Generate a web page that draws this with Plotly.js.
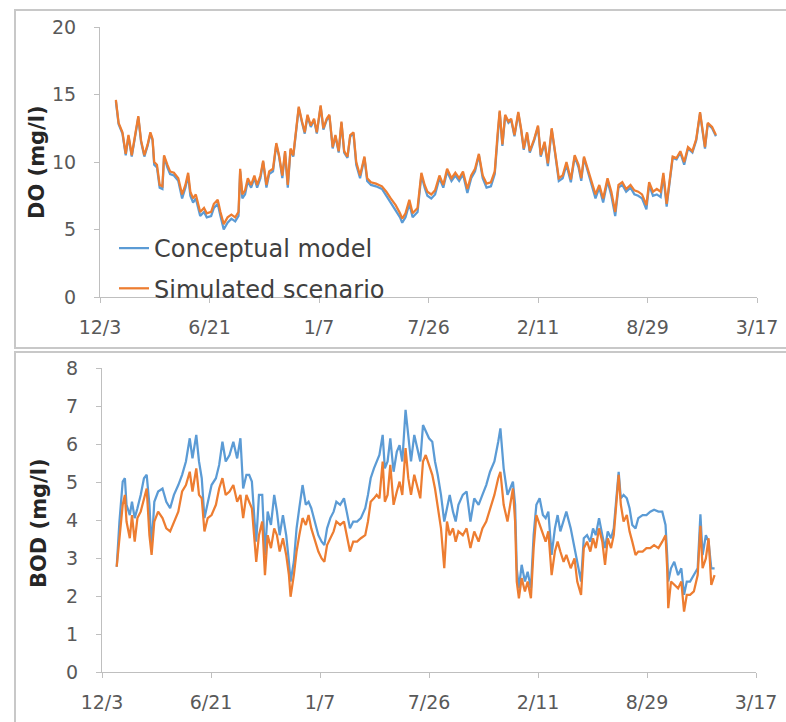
<!DOCTYPE html>
<html>
<head>
<meta charset="utf-8">
<script src="https://cdn.plot.ly/plotly-3.0.1.min.js"></script>
<style>
  html, body { margin: 0; padding: 0; background: #ffffff; }
  #chart { width: 786px; height: 722px; }
</style>
</head>
<body>
<div id="chart"></div>
<script>
// Day counts are measured from the first axis tick (12/3).
const START_DATE = '2013-12-03';

const X_TICKS = ['2013-12-03', '2014-06-21', '2015-01-07', '2015-07-26', '2016-02-11', '2016-08-29', '2017-03-17'];
const X_TICK_LABELS = ['12/3', '6/21', '1/7', '7/26', '2/11', '8/29', '3/17'];

const SERIES_NAMES = ['Conceptual model', 'Simulated scenario'];

// Dissolved oxygen (mg/l)
const DO_DAYS = [
  29, 34, 41, 47, 52, 58, 65, 70, 75, 81,
  87, 92, 96, 99, 104, 109, 114, 117, 123, 128,
  135, 143, 150, 156, 161, 165, 170, 175, 183, 190,
  195, 203, 208, 215, 220, 226, 233, 240, 247, 253,
  256, 260, 265, 270, 276, 282, 287, 293, 298, 304,
  309, 316, 322, 327, 333, 338, 343, 348, 353, 358,
  363, 369, 374, 379, 385, 391, 396, 403, 408, 414,
  419, 425, 430, 436, 441, 446, 452, 457, 463, 468,
  475, 483, 488, 495, 504, 515, 523, 531, 540, 548,
  552, 558, 565, 571, 580, 587, 593, 598, 605, 612,
  620, 627, 634, 642, 649, 656, 663, 671, 678, 685,
  692, 699, 706, 714, 721, 726, 730, 735, 740, 746,
  751, 757, 764, 769, 774, 780, 785, 793, 800, 805,
  812, 818, 825, 831, 838, 845, 852, 860, 867, 874,
  879, 884, 892, 899, 905, 912, 919, 927, 934, 941,
  947, 954, 961, 969, 976, 983, 990, 998, 1003, 1010,
  1017, 1024, 1029, 1035, 1041, 1046, 1053, 1060, 1067, 1074,
  1082, 1089, 1096, 1101, 1105, 1110, 1118, 1125
];
const DO_CONCEPTUAL = [
  14.5, 12.8, 12.1, 10.5, 11.9, 10.4, 12.1, 13.3, 11.5, 10.4,
  11.2, 12.1, 11.6, 9.8, 9.6, 8.1, 8.0, 10.4, 9.6, 9.1,
  9.0, 8.6, 7.3, 8.1, 9.0, 7.5, 7.0, 7.3, 6.0, 6.3,
  5.9, 6.0, 6.6, 6.9, 6.0, 5.0, 5.5, 5.8, 5.6, 6.0,
  9.3, 7.3, 7.6, 8.6, 8.1, 8.8, 8.1, 8.8, 10.0, 8.1,
  9.1, 9.3, 11.3, 10.4, 8.8, 10.7, 8.1, 10.9, 10.4, 12.4,
  14.0, 12.9, 12.1, 13.4, 12.6, 13.1, 12.1, 14.1, 12.4, 13.1,
  13.4, 11.0, 11.9, 10.7, 12.9, 10.7, 10.3, 11.9, 12.1, 9.8,
  8.8, 10.3, 8.6, 8.3, 8.2, 8.0, 7.5, 7.0, 6.5, 5.9,
  5.5, 5.9, 6.9, 5.9, 6.3, 9.0, 8.1, 7.5, 7.3, 7.6,
  8.8, 8.1, 9.3, 8.6, 9.0, 8.6, 9.1, 7.7, 8.8, 9.3,
  10.5, 8.8, 8.1, 8.2, 9.1, 11.9, 13.7, 11.2, 13.4, 12.9,
  13.1, 11.9, 13.6, 12.4, 10.9, 12.1, 10.7, 11.6, 12.6, 10.4,
  11.4, 9.7, 12.4, 10.7, 8.6, 8.8, 9.8, 8.5, 10.4, 9.6,
  8.6, 10.3, 9.1, 8.1, 7.3, 8.1, 7.0, 8.6, 7.5, 6.0,
  8.1, 8.3, 7.8, 8.1, 7.6, 7.5, 7.3, 6.5, 8.3, 7.5,
  7.6, 7.4, 9.0, 6.7, 8.8, 10.3, 10.2, 10.7, 9.8, 11.0,
  10.7, 11.6, 13.6, 12.1, 11.0, 12.8, 12.5, 11.9
];
const DO_SIMULATED = [
  14.6, 12.9, 12.2, 10.6, 12.0, 10.5, 12.2, 13.4, 11.6, 10.5,
  11.3, 12.2, 11.7, 10.0, 9.8, 8.3, 8.2, 10.5, 9.8, 9.3,
  9.2, 8.8, 7.6, 8.3, 9.2, 7.8, 7.3, 7.6, 6.3, 6.6,
  6.2, 6.3, 6.9, 7.2, 6.3, 5.4, 5.9, 6.1, 5.9, 6.3,
  9.5, 7.6, 7.9, 8.8, 8.3, 9.0, 8.3, 9.0, 10.1, 8.3,
  9.3, 9.5, 11.4, 10.5, 9.0, 10.8, 8.3, 11.0, 10.5, 12.5,
  14.1, 13.0, 12.2, 13.5, 12.7, 13.2, 12.2, 14.2, 12.5, 13.2,
  13.5, 11.1, 12.0, 10.8, 13.0, 10.8, 10.4, 12.0, 12.2, 10.0,
  9.0, 10.4, 8.8, 8.5, 8.4, 8.2, 7.8, 7.3, 6.8, 6.2,
  5.8, 6.2, 7.2, 6.2, 6.6, 9.2, 8.3, 7.8, 7.6, 7.9,
  9.0, 8.3, 9.5, 8.8, 9.2, 8.8, 9.3, 8.0, 9.0, 9.5,
  10.6, 9.0, 8.4, 8.5, 9.3, 12.0, 13.8, 11.3, 13.5, 13.0,
  13.2, 12.0, 13.7, 12.5, 11.0, 12.2, 10.8, 11.7, 12.7, 10.5,
  11.5, 9.9, 12.5, 10.8, 8.8, 9.0, 10.0, 8.7, 10.5, 9.8,
  8.8, 10.4, 9.3, 8.3, 7.6, 8.3, 7.3, 8.8, 7.8, 6.3,
  8.3, 8.5, 8.0, 8.3, 7.9, 7.8, 7.6, 6.8, 8.5, 7.8,
  8.0, 7.8, 9.2, 6.9, 9.0, 10.4, 10.3, 10.8, 10.0, 11.1,
  10.8, 11.7, 13.7, 12.2, 11.1, 12.9, 12.6, 12.0
];

// Biochemical oxygen demand (mg/l)
const BOD_DAYS = [
  27, 32, 38, 42, 45, 51, 55, 60, 65, 71,
  77, 82, 87, 91, 96, 103, 111, 118, 125, 132,
  140, 147, 154, 161, 166, 173, 178, 183, 188, 194,
  201, 209, 215, 221, 227, 234, 241, 248, 254, 259,
  265, 270, 275, 280, 283, 288, 294, 299, 304, 310,
  316, 321, 326, 332, 338, 343, 346, 352, 357, 362,
  368, 374, 379, 384, 390, 397, 403, 408, 413, 419,
  425, 430, 437, 444, 449, 455, 461, 468, 475, 483,
  488, 493, 499, 504, 509, 515, 519, 524, 529, 535,
  541, 546, 551, 557, 562, 567, 573, 578, 584, 589,
  594, 600, 606, 611, 616, 622, 628, 633, 638, 644,
  649, 654, 662, 669, 676, 683, 691, 698, 705, 712,
  720, 727, 731, 737, 744, 749, 754, 758, 761, 765,
  770, 776, 781, 787, 792, 797, 803, 809, 814, 819,
  825, 831, 836, 841, 847, 852, 860, 867, 872, 879,
  884, 890, 896, 901, 906, 912, 918, 923, 928, 934,
  939, 944, 948, 952, 957, 963, 968, 973, 979, 984,
  992, 999, 1006, 1013, 1021, 1028, 1034, 1037, 1039, 1044,
  1050, 1057, 1063, 1068, 1073, 1079, 1086, 1093, 1098, 1102,
  1108, 1113, 1118, 1124
];
const BOD_CONCEPTUAL = [
  2.77, 3.96, 5.01, 5.1, 4.4, 4.13, 4.48, 4.05, 4.31, 4.66,
  5.1, 5.19, 4.4, 3.26, 4.48, 4.75, 4.83, 4.48, 4.31, 4.66,
  4.92, 5.19, 5.54, 6.15, 5.62, 6.24, 5.54, 5.1, 4.05, 4.48,
  4.92, 5.1, 5.45, 6.06, 5.54, 5.71, 6.06, 5.62, 6.15, 4.83,
  5.19, 5.19, 5.01, 3.96, 3.43, 4.66, 4.66, 3.08, 4.22, 3.87,
  4.66, 4.22, 3.6, 4.13, 3.6, 2.9, 2.38, 2.9, 3.78, 4.31,
  4.92, 4.4, 4.48, 4.31, 3.96, 3.6, 3.43, 3.34, 3.78, 4.05,
  4.22, 4.48, 4.4, 4.57, 4.22, 3.78, 3.96, 3.96, 4.05, 4.31,
  4.66, 5.1, 5.36, 5.54, 5.71, 6.24, 5.36, 5.54, 6.15, 5.27,
  5.8, 5.97, 5.54, 6.9, 6.15, 5.54, 6.24, 5.89, 5.54, 6.5,
  6.33, 6.15, 6.06, 5.54, 5.19, 4.66, 3.96, 4.31, 4.66, 4.22,
  3.96, 4.4, 4.66, 4.75, 3.96, 4.57, 4.4, 4.66, 4.92, 5.27,
  5.54, 6.06, 6.41, 5.36, 4.66, 4.83, 5.01, 4.4, 2.73, 2.2,
  2.82, 2.38, 2.64, 2.2, 3.6, 4.4, 4.57, 4.13, 4.05, 4.22,
  3.08, 3.78, 4.13, 3.7, 3.96, 4.22, 3.78, 3.26, 2.9, 2.38,
  3.52, 3.6, 3.43, 3.78, 3.6, 4.05, 3.6, 3.26, 3.7, 3.52,
  3.78, 4.66, 5.27, 4.57, 4.66, 4.57, 4.31, 3.87, 3.78, 4.05,
  4.13, 4.13, 4.22, 4.27, 4.22, 4.22, 3.87, 3.08, 2.38, 2.73,
  2.9, 2.55, 2.73, 2.03, 2.38, 2.38, 2.55, 2.73, 4.15, 3.08,
  3.6, 3.43, 2.73, 2.73
];
const BOD_SIMULATED = [
  2.77, 3.6, 4.4, 4.66, 3.96, 3.52, 4.13, 3.43, 4.05, 4.22,
  4.57, 4.83, 3.6, 3.08, 3.96, 4.22, 4.05, 3.78, 3.7, 3.96,
  4.22, 4.75, 4.92, 5.27, 4.75, 5.36, 4.66, 4.57, 3.7, 4.05,
  4.13, 4.4, 4.83, 5.1, 4.66, 4.75, 4.92, 4.48, 4.66, 4.05,
  4.66, 4.48, 4.31, 3.43, 2.9, 3.6, 3.96, 2.55, 3.6, 3.26,
  3.78, 3.6, 3.17, 3.52, 3.08, 2.55, 1.98, 2.55, 3.17, 3.6,
  4.05, 3.87, 4.13, 3.78, 3.52, 3.17, 2.99, 2.9, 3.34, 3.52,
  3.7, 3.96, 3.87, 3.96, 3.6, 3.17, 3.43, 3.43, 3.52, 3.6,
  3.96, 4.48, 4.57, 4.66, 4.57, 5.54, 4.48, 4.66, 5.45, 4.4,
  4.75, 5.01, 4.66, 5.89, 5.1, 4.66, 5.19, 4.92, 4.57, 5.54,
  5.71, 5.45, 5.19, 4.83, 4.4, 3.78, 2.73, 3.96, 3.6, 3.78,
  3.43, 3.7, 3.6, 3.78, 3.26, 3.7, 3.43, 3.78, 3.96, 4.31,
  4.66, 5.1, 5.27, 4.4, 3.96, 4.4, 4.83, 3.96, 2.38, 1.94,
  2.47, 2.12, 2.38, 1.94, 3.26, 4.13, 3.87, 3.6, 3.43, 3.7,
  2.55, 3.17, 3.43, 3.17, 2.9, 3.08, 2.73, 2.99, 2.38, 2.03,
  3.26, 3.43, 3.17, 3.52, 3.26, 3.78, 3.43, 2.82, 3.52, 3.26,
  3.6, 4.48, 5.19, 4.4, 3.96, 4.13, 3.7, 3.43, 3.08, 3.17,
  3.17, 3.26, 3.26, 3.34, 3.26, 3.43, 3.6, 2.73, 1.68, 2.38,
  2.29, 2.2, 2.38, 1.59, 2.03, 2.03, 2.12, 2.55, 3.85, 2.73,
  2.99, 3.52, 2.29, 2.55
];

const COLOR_CONCEPTUAL = '#5B9BD5';
const COLOR_SIMULATED = '#ED7D31';

// ---- helpers -------------------------------------------------------------
const W = 786, H = 722;
const px = v => v / W;          // page pixel -> paper x
const py = v => 1 - v / H;      // page pixel -> paper y
const DAY_MS = 86400000;
const startMs = Date.parse(START_DATE + 'T00:00:00Z');
const toDates = days => days.map(d => new Date(startMs + d * DAY_MS).toISOString().slice(0, 10));

const FONT = 'DejaVu Sans, Verdana, sans-serif';
const AXIS_GRAY = '#bfbfbf';
const TICK_FONT = { family: FONT, size: 19, color: '#595959' };

function xAxis(domainPx, anchor) {
  return {
    type: 'date',
    domain: [px(domainPx[0]), px(domainPx[1])],
    anchor: anchor,
    range: [X_TICKS[0], X_TICKS[X_TICKS.length - 1]],
    tickmode: 'array',
    tickvals: X_TICKS,
    ticktext: X_TICK_LABELS,
    showgrid: false,
    zeroline: false,
    showline: true,
    linecolor: AXIS_GRAY,
    linewidth: 1,
    ticks: 'outside',
    ticklen: 5,
    tickcolor: AXIS_GRAY,
    tickwidth: 1,
    tickfont: TICK_FONT,
    ticklabelstandoff: 8,
    fixedrange: true
  };
}

function yAxis(domainPx, anchor, maxVal, step) {
  return {
    domain: [py(domainPx[1]), py(domainPx[0])],
    anchor: anchor,
    range: [0, maxVal],
    tickmode: 'linear',
    tick0: 0,
    dtick: step,
    showgrid: false,
    zeroline: false,
    showline: true,
    linecolor: AXIS_GRAY,
    linewidth: 1,
    ticks: 'outside',
    ticklen: 5,
    tickcolor: AXIS_GRAY,
    tickwidth: 1,
    tickfont: TICK_FONT,
    ticklabelstandoff: 14,
    fixedrange: true
  };
}

function line(x, y, name, color, xa, ya, group, show) {
  return {
    type: 'scatter',
    mode: 'lines',
    x: x,
    y: y,
    name: name,
    xaxis: xa,
    yaxis: ya,
    legendgroup: group,
    showlegend: show,
    line: { color: color, width: 2.25 },
    hoverinfo: 'skip'
  };
}

const doDates = toDates(DO_DAYS);
const bodDates = toDates(BOD_DAYS);

const data = [
  line(doDates, DO_CONCEPTUAL, SERIES_NAMES[0], COLOR_CONCEPTUAL, 'x', 'y', 'g1', true),
  line(doDates, DO_SIMULATED, SERIES_NAMES[1], COLOR_SIMULATED, 'x', 'y', 'g2', true),
  line(bodDates, BOD_CONCEPTUAL, SERIES_NAMES[0], COLOR_CONCEPTUAL, 'x2', 'y2', 'g1', false),
  line(bodDates, BOD_SIMULATED, SERIES_NAMES[1], COLOR_SIMULATED, 'x2', 'y2', 'g2', false)
];

const TITLE_FONT = { family: FONT, size: 21, color: '#262626', weight: 700 };

const layout = {
  width: W,
  height: H,
  margin: { l: 0, r: 0, t: 0, b: 0, pad: 0 },
  paper_bgcolor: '#ffffff',
  plot_bgcolor: '#ffffff',
  font: { family: FONT, color: '#404040' },
  xaxis: xAxis([100, 757], 'y'),
  yaxis: yAxis([27, 297], 'x', 20, 5),
  xaxis2: xAxis([102, 756], 'y2'),
  yaxis2: yAxis([368, 672], 'x2', 8, 1),
  showlegend: true,
  legend: {
    x: px(114),
    y: py(226),
    xanchor: 'left',
    yanchor: 'top',
    bgcolor: 'rgba(0,0,0,0)',
    borderwidth: 0,
    traceorder: 'grouped',
    tracegroupgap: 6,
    font: { family: FONT, size: 24, color: '#404040' }
  },
  annotations: [
    { xref: 'paper', yref: 'paper', x: px(37), y: py(162), text: 'DO (mg/l)', textangle: -90,
      showarrow: false, xanchor: 'center', yanchor: 'middle', font: TITLE_FONT },
    { xref: 'paper', yref: 'paper', x: px(39), y: py(523), text: 'BOD (mg/l)', textangle: -90,
      showarrow: false, xanchor: 'center', yanchor: 'middle', font: TITLE_FONT }
  ],
  shapes: [
    { type: 'rect', xref: 'paper', yref: 'paper', x0: px(15), x1: px(800), y0: py(348), y1: py(10),
      line: { color: '#c8c8c8', width: 2 }, fillcolor: 'rgba(0,0,0,0)' },
    { type: 'rect', xref: 'paper', yref: 'paper', x0: px(15), x1: px(800), y0: py(740), y1: py(352),
      line: { color: '#c8c8c8', width: 2 }, fillcolor: 'rgba(0,0,0,0)' }
  ]
};

Plotly.newPlot('chart', data, layout, { staticPlot: true, displayModeBar: false });
</script>
</body>
</html>
